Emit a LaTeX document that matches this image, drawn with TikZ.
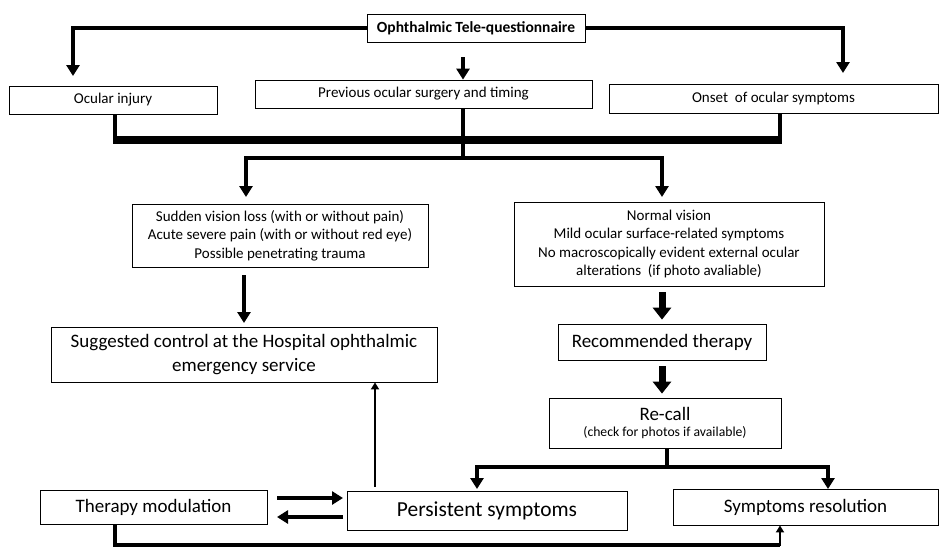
\documentclass[tikz,border=0pt]{standalone}
\usepackage{fontspec}
\setmainfont{Carlito}
\usetikzlibrary{arrows.meta,calc}
\begin{document}
\begin{tikzpicture}[x=1pt,y=-1pt,
  box/.style={draw,line width=0.8pt,align=center,inner sep=2pt,anchor=center},
  conn/.style={line width=4pt},
  arr/.style={line width=4pt,-{Triangle[width=13pt,length=11pt]}},
  wide/.style={line width=7pt,-{Triangle[width=18pt,length=12pt]}},
  thin/.style={line width=2.5pt,-{Triangle[width=8pt,length=7pt]}},
  fs/.style={font=\fontsize{#1}{#1}\selectfont}]
\useasboundingbox (0,0) rectangle (940,549);
% boxes
\node[box,fs=15.5,minimum width=218,minimum height=28] (title) at (476,28) {\textbf{Ophthalmic Tele-questionnaire}};
\node[box,fs=15,minimum width=208,minimum height=28] (inj) at (113,100) {Ocular injury};
\node[box,fs=15,minimum width=337,minimum height=28] (surg) at (423.5,94) {Previous ocular surgery and timing};
\node[box,fs=15,minimum width=329,minimum height=29] (onset) at (773.5,98.5) {Onset\ \ of ocular symptoms};
\node[box,font=\fontsize{15}{18.5}\selectfont,minimum width=296,minimum height=63] (sudden) at (280,235.5)
  {Sudden vision loss (with or without pain)\\Acute severe pain (with or without red eye)\\Possible penetrating trauma};
\node[box,font=\fontsize{15}{18.2}\selectfont,minimum width=310,minimum height=84] (normal) at (669,244)
  {Normal vision\\Mild ocular surface-related symptoms\\No macroscopically evident external ocular\\alterations\ \ (if photo avaliable)};
\node[box,font=\fontsize{19}{24}\selectfont,minimum width=386,minimum height=55] (hosp) at (244,354.5)
  {Suggested control at the Hospital ophthalmic\\emergency service};
\node[box,fs=19,minimum width=208,minimum height=36] (rec) at (662,342) {Recommended therapy};
\node[box,font=\fontsize{19}{16}\selectfont,minimum width=232,minimum height=50] (recall) at (665,423)
  {Re-call\\{\fontsize{13.7}{15}\selectfont (check for photos if available)}};
\node[box,fs=19,minimum width=227,minimum height=34] (tmod) at (153.5,507) {Therapy modulation};
\node[box,fs=21.4,minimum width=280,minimum height=39] (pers) at (487,510.5) {Persistent symptoms};
\node[box,fs=19,minimum width=265,minimum height=36] (res) at (805.5,507) {Symptoms resolution};
% coordinates
\coordinate (la) at (73,76);
\coordinate (ra) at (843,73);
\coordinate (mtop) at (463,57);
\coordinate (jn) at (463,158);
\coordinate (recjn) at (667,467);
\coordinate (botL) at (115,545);
% top connectors
\draw[conn] (title.west) -| (73,62);
\draw[arr] (73,55) -- (la);
\draw[conn] (title.east) -| (843,60);
\draw[arr] (843,55) -- (ra);
\draw[arr] (mtop) -- (surg.north -| mtop);
% bar
\draw[conn] (inj.south -| 115,0) -- (115,140);
\draw[conn] (onset.south -| 780,0) -- (780,140);
\draw[line width=8pt] (113,140) -- (782,140);
\draw[conn] (surg.south -| 463,0) -- (jn);
\draw[conn] (244,158) -- (664,158);
\draw[arr] (246,156) -- (246,197);
\draw[arr] (662,156) -- (662,197);
% left branch
\draw[arr] ($(sudden.south -| 244,0)+(0,8)$) -- (244,323);
% right branch
\draw[wide] ($(normal.south -| 662,0)+(0,6)$) -- ($(rec.north)+(0,-4)$);
\draw[wide] ($(rec.south)+(0,6)$) -- ($(recall.north -| rec.south)+(0,-4)$);
\draw[conn] (recall.south -| 667,0) -- (recjn);
\draw[conn] (475,467) -- (830,467);
\draw[arr] (477,465) -- (477,489);
\draw[arr] (828,465) -- (828,489);
% bottom
\draw[arr] (277,498) -- (343,498);
\draw[arr] (343,517) -- (277,517);
\draw[thin] ($(pers.north -| 375,0)+(0,-4)$) -- (hosp.south -| 375,0);
\draw[conn] (tmod.south -| 115,0) -- (botL) -- (780,545);
\draw[thin] (780,546) -- (res.south -| 780,0);
\end{tikzpicture}
\end{document}
